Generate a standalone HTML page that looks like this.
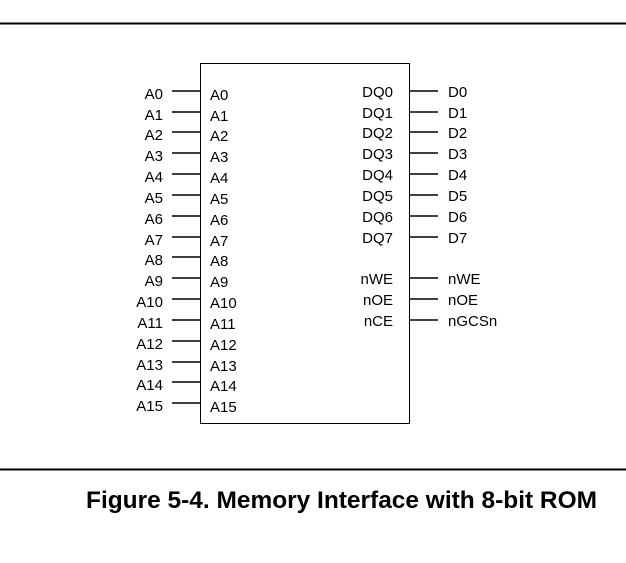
<!DOCTYPE html>
<html><head><meta charset="utf-8"><style>
html,body{margin:0;padding:0;background:#fff;}
svg{display:block;}
text{font-family:"Liberation Sans",Arial,sans-serif;font-size:15px;fill:#000;}
</style></head><body>
<svg width="626" height="563" viewBox="0 0 626 563">
<line x1="0" y1="23.5" x2="626" y2="23.5" stroke="#000" stroke-width="2"/>
<line x1="0" y1="469.5" x2="626" y2="469.5" stroke="#000" stroke-width="2"/>
<rect x="200.5" y="63.5" width="209" height="360" fill="none" stroke="#000" stroke-width="1"/>
<g stroke="#000" stroke-width="1.5">
<line x1="172" y1="91" x2="200" y2="91"/><line x1="172" y1="112" x2="200" y2="112"/>
<line x1="172" y1="132" x2="200" y2="132"/><line x1="172" y1="153" x2="200" y2="153"/>
<line x1="172" y1="174" x2="200" y2="174"/><line x1="172" y1="195" x2="200" y2="195"/>
<line x1="172" y1="216" x2="200" y2="216"/><line x1="172" y1="237" x2="200" y2="237"/>
<line x1="172" y1="257" x2="200" y2="257"/><line x1="172" y1="278" x2="200" y2="278"/>
<line x1="172" y1="299" x2="200" y2="299"/><line x1="172" y1="320" x2="200" y2="320"/>
<line x1="172" y1="341" x2="200" y2="341"/><line x1="172" y1="362" x2="200" y2="362"/>
<line x1="172" y1="382" x2="200" y2="382"/><line x1="172" y1="403" x2="200" y2="403"/>
<line x1="410" y1="91" x2="438" y2="91"/><line x1="410" y1="112" x2="438" y2="112"/>
<line x1="410" y1="132" x2="438" y2="132"/><line x1="410" y1="153" x2="438" y2="153"/>
<line x1="410" y1="174" x2="438" y2="174"/><line x1="410" y1="195" x2="438" y2="195"/>
<line x1="410" y1="216" x2="438" y2="216"/><line x1="410" y1="237" x2="438" y2="237"/>
<line x1="410" y1="278" x2="438" y2="278"/><line x1="410" y1="299" x2="438" y2="299"/>
<line x1="410" y1="320" x2="438" y2="320"/>
</g>
<g text-anchor="end">
<text x="163" y="99">A0</text><text x="163" y="120">A1</text><text x="163" y="140">A2</text><text x="163" y="161">A3</text>
<text x="163" y="182">A4</text><text x="163" y="203">A5</text><text x="163" y="224">A6</text><text x="163" y="245">A7</text>
<text x="163" y="265">A8</text><text x="163" y="286">A9</text><text x="163" y="307">A10</text><text x="163" y="328">A11</text>
<text x="163" y="349">A12</text><text x="163" y="370">A13</text><text x="163" y="390">A14</text><text x="163" y="411">A15</text>
<text x="393" y="97">DQ0</text><text x="393" y="118">DQ1</text><text x="393" y="138">DQ2</text><text x="393" y="159">DQ3</text>
<text x="393" y="180">DQ4</text><text x="393" y="201">DQ5</text><text x="393" y="222">DQ6</text><text x="393" y="243">DQ7</text>
<text x="393" y="284">nWE</text><text x="393" y="305">nOE</text><text x="393" y="326">nCE</text>
</g>
<g>
<text x="210" y="100">A0</text><text x="210" y="121">A1</text><text x="210" y="141">A2</text><text x="210" y="162">A3</text>
<text x="210" y="183">A4</text><text x="210" y="204">A5</text><text x="210" y="225">A6</text><text x="210" y="246">A7</text>
<text x="210" y="266">A8</text><text x="210" y="287">A9</text><text x="210" y="308">A10</text><text x="210" y="329">A11</text>
<text x="210" y="350">A12</text><text x="210" y="371">A13</text><text x="210" y="391">A14</text><text x="210" y="412">A15</text>
<text x="448" y="97">D0</text><text x="448" y="118">D1</text><text x="448" y="138">D2</text><text x="448" y="159">D3</text>
<text x="448" y="180">D4</text><text x="448" y="201">D5</text><text x="448" y="222">D6</text><text x="448" y="243">D7</text>
<text x="448" y="284">nWE</text><text x="448" y="305">nOE</text><text x="448" y="326">nGCSn</text>
</g>
<text x="86" y="508" textLength="511" lengthAdjust="spacingAndGlyphs" style="font-size:24px;font-weight:bold;">Figure 5-4. Memory Interface with 8-bit ROM</text>
</svg>
</body></html>
